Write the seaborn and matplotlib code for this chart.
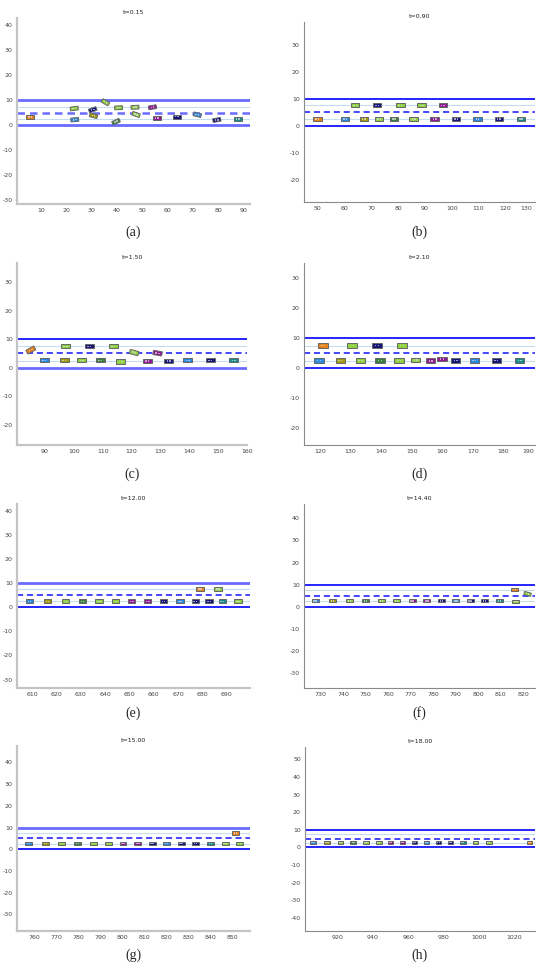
import numpy as np
import pandas as pd
import matplotlib
matplotlib.use("Agg")
import matplotlib.pyplot as plt
from matplotlib.patches import Rectangle
import seaborn as sns

# ---------------- data ----------------
TITLES = ["t=0.15", "t=0.90", "t=1.50", "t=2.10", "t=12.00", "t=14.40", "t=15.00", "t=18.00"]
CAPTIONS = ["(a)", "(b)", "(c)", "(d)", "(e)", "(f)", "(g)", "(h)"]

PALETTE = {"orange": "#e8801a", "blue": "#2a8ae0", "olive": "#a09a10", "lgreen": "#8ed040",
           "dgreen": "#3c8040", "purple": "#901890", "navy": "#16167a", "teal": "#188c8c"}

# panel (a)
a_x = [5.8, 23.2, 23.4, 30.5, 30.8, 35.5, 39.7, 40.7, 47.2, 47.6, 54.1, 55.8, 63.7, 71.8, 79.5, 87.8]
a_y = [3.2, 6.7, 2.2, 6.2, 3.8, 9.2, 1.4, 7.0, 7.2, 4.3, 7.2, 2.8, 3.4, 4.2, 2.1, 2.4]
a_ang = [0, 8, 5, 20, -15, -30, 25, 3, 3, -20, 10, 0, 0, -15, 10, 0]
a_col = ["orange", "lgreen", "blue", "navy", "olive", "lgreen", "dgreen", "lgreen", "lgreen",
         "lgreen", "purple", "purple", "navy", "blue", "navy", "teal"]

# panel (b)
b_x = [50.0, 60.3, 67.3, 73.0, 78.5, 85.8, 93.6, 101.7, 109.6, 117.5, 125.8, 64.1, 72.3, 80.9, 88.8, 96.7]
b_y = [2.5] * 11 + [7.5] * 5
b_ang = [0] * 16
b_col = ["orange", "blue", "olive", "lgreen", "dgreen", "lgreen", "purple", "navy", "blue", "navy", "teal",
         "lgreen", "navy", "lgreen", "lgreen", "purple"]

# panel (c)
c_x = [85.1, 97.1, 105.3, 113.6, 89.8, 96.6, 102.8, 109.1, 116.2, 125.4, 132.9, 139.5, 147.2, 155.4, 120.9, 129.0]
c_y = [6.2, 7.5, 7.5, 7.5, 2.6, 2.6, 2.6, 2.6, 2.2, 2.3, 2.3, 2.6, 2.6, 2.6, 5.3, 5.1]
c_ang = [30, 0, 0, 0, 0, 0, 0, 0, 0, 0, 0, 0, 0, 0, -15, -10]
c_col = ["orange", "lgreen", "navy", "lgreen", "blue", "olive", "lgreen", "dgreen", "lgreen", "purple",
         "navy", "blue", "navy", "teal", "lgreen", "purple"]

# panel (d)
d_x = [121.0, 130.4, 138.6, 146.8, 119.6, 126.6, 133.2, 139.6, 145.9, 151.3, 156.2, 159.9, 164.4, 170.5, 177.7, 185.4]
d_y = [7.6, 7.6, 7.6, 7.6, 2.6, 2.6, 2.6, 2.6, 2.6, 2.8, 2.5, 3.0, 2.6, 2.6, 2.6, 2.6]
d_ang = [0] * 16
d_col = ["orange", "lgreen", "navy", "lgreen", "blue", "olive", "lgreen", "dgreen", "lgreen", "lgreen",
         "purple", "purple", "navy", "blue", "navy", "teal"]

# panel (e)
e_x = [608.8, 616.3, 623.7, 630.6, 637.4, 644.2, 650.9, 657.5, 664.0, 670.8, 677.1, 682.8, 688.2, 694.6, 679.0, 686.4]
e_y = [2.5] * 14 + [7.7, 7.7]
e_ang = [0] * 16
e_col = ["blue", "olive", "lgreen", "dgreen", "lgreen", "lgreen", "purple", "purple", "navy", "blue", "navy",
         "navy", "teal", "lgreen", "orange", "lgreen"]

# panel (f)
f_x = [727.6, 735.3, 742.8, 749.9, 757.0, 763.7, 770.7, 777.2, 783.7, 790.1, 796.5, 802.9, 809.5, 816.8, 816.1, 822.0]
f_y = [2.7] * 13 + [2.3, 7.7, 5.8]
f_ang = [0] * 15 + [-15]
f_col = ["blue", "olive", "lgreen", "dgreen", "lgreen", "lgreen", "purple", "purple", "navy", "blue", "navy",
         "navy", "teal", "lgreen", "orange", "lgreen"]

# panel (g)
g_x = [757.4, 765.0, 772.4, 779.5, 786.8, 793.6, 800.3, 807.0, 813.5, 820.0, 826.7, 833.2, 840.0, 846.7, 853.2, 851.5]
g_y = [2.6] * 15 + [7.5]
g_ang = [0] * 16
g_col = ["blue", "olive", "lgreen", "dgreen", "lgreen", "lgreen", "purple", "purple", "navy", "blue", "navy",
         "navy", "teal", "lgreen", "lgreen", "orange"]

# panel (h)
h_x = [906.3, 914.2, 921.7, 929.0, 936.2, 943.4, 950.1, 956.9, 963.6, 970.4, 977.1, 983.8, 990.8, 997.9, 1005.5, 1028.5]
h_y = [2.7] * 16
h_ang = [0] * 16
h_col = ["blue", "olive", "lgreen", "dgreen", "lgreen", "lgreen", "purple", "purple", "navy", "blue", "navy",
         "navy", "teal", "lgreen", "lgreen", "orange"]

CARS = [(a_x, a_y, a_ang, a_col), (b_x, b_y, b_ang, b_col), (c_x, c_y, c_ang, c_col), (d_x, d_y, d_ang, d_col),
        (e_x, e_y, e_ang, e_col), (f_x, f_y, f_ang, f_col), (g_x, g_y, g_ang, g_col), (h_x, h_y, h_ang, h_col)]

XLIMS = [(0.6, 92.6), (45.0, 131.0), (80.3, 160.0), (114.7, 190.4),
         (603.7, 699.6), (722.6, 825.3), (752.1, 858.0), (901.8, 1031.5)]
YLIMS = [(-31.6, 43.0), (-28.3, 38.4), (-27.1, 36.7), (-25.6, 35.1),
         (-33.5, 42.9), (-36.8, 46.5), (-37.6, 47.5), (-47.5, 57.0)]
XTICKS = [range(10, 91, 10), range(50, 131, 10), range(90, 161, 10), range(120, 191, 10),
          range(610, 691, 10), range(730, 821, 10), range(760, 851, 10), range(920, 1021, 20)]
YTICKS = [range(-30, 41, 10), range(-20, 31, 10), range(-20, 31, 10), range(-20, 31, 10),
          range(-30, 41, 10), range(-30, 41, 10), range(-30, 41, 10), range(-40, 51, 10)]

# road geometry
ROAD_EDGES = [0, 10]
CENTER_LINE = 5
LANE_CENTERS = [2.5, 7.5]
CAR_LEN, CAR_WID = 3.1, 1.5

# rendering look of edge lines per panel: (bottom light?, top light?, dashed light?)
LIGHT_FLAGS = [(True, True, True), (False, False, False), (True, False, False), (False, False, False),
               (False, True, False), (False, False, False), (False, True, False), (False, False, False)]

# axes boxes in pixels: left, right, top, bottom
BOXES = [(17, 250, 18, 204), (304, 535, 22, 202), (17, 247, 263, 445), (304, 535, 263, 445),
         (17, 250, 504, 688), (304, 535, 504, 688), (17, 250, 746, 931), (305, 535, 747, 931)]
CAP_Y = [232, 232, 474, 474, 713, 713, 955, 955]

W, H = 536, 974
sns.set_style("white")
plt.rcParams['font.family'] = ['DejaVu Sans']
plt.rcParams['axes.unicode_minus'] = False
fig = plt.figure(figsize=(W / 100, H / 100), dpi=100)

DARK, LIGHT = "#1414ff", "#6a6aff"

for i in range(8):
    l, r, t, b = BOXES[i]
    ax = fig.add_axes([l / W, 1 - b / H, (r - l) / W, (b - t) / H])
    ax.set_xlim(*XLIMS[i])
    ax.set_ylim(*YLIMS[i])
    bl, tl, dl = LIGHT_FLAGS[i]
    # lane guides
    for yc in LANE_CENTERS:
        ax.axhline(yc, color="#c6dcef", lw=0.8, zorder=1)
    for ye, light in zip(ROAD_EDGES, (bl, tl)):
        ax.axhline(ye, color=LIGHT if light else DARK, lw=2.0 if light else 1.3, zorder=2)
    ax.axhline(CENTER_LINE, color=LIGHT if dl else DARK, lw=1.8 if dl else 1.1,
               ls=(0, (4, 2.5)) if not dl else (0, (3, 2)), zorder=2)

    xs, ys, angs, cols = CARS[i]
    for x, y, ang, c in zip(xs, ys, angs, cols):
        ax.add_patch(Rectangle((x - CAR_LEN / 2, y - CAR_WID / 2), CAR_LEN, CAR_WID, angle=ang,
                               rotation_point="center", facecolor=PALETTE[c],
                               edgecolor="#666666", lw=0.7, zorder=4))
    # small windows on each car
    win = pd.DataFrame({
        "x": [x + s * 0.45 * np.cos(np.radians(a)) for x, a in zip(xs, angs) for s in (-1, 1)],
        "y": [y + s * 0.45 * np.sin(np.radians(a)) for y, a in zip(ys, angs) for s in (-1, 1)],
    })
    sns.scatterplot(data=win, x="x", y="y", ax=ax, marker="s", s=1.2, color="#e0e0e0",
                    edgecolor="none", alpha=0.7, zorder=5, legend=False)

    ax.set_xticks(list(XTICKS[i]))
    ax.set_yticks(list(YTICKS[i]))
    ax.set_xlabel("")
    ax.set_ylabel("")
    ax.tick_params(axis="both", direction="out", length=1.5, width=0.5, labelsize=4.5,
                   colors="#444444", pad=1.5)
    # keep the last x label inside the figure when the axis touches the right edge
    if r >= 533:
        lbls = ax.get_xticklabels()
        xt = list(XTICKS[i])
        if xt[-1] >= XLIMS[i][1] - 2:
            lbls[-1].set_horizontalalignment("right")
    for side in ("top", "right"):
        ax.spines[side].set_visible(False)
    left_col = (i % 2 == 0)
    for side in ("left", "bottom"):
        ax.spines[side].set_color("#c4c4c4" if left_col else "#8a8a8a")
        ax.spines[side].set_linewidth(1.6 if left_col else 0.8)
    ax.set_title(TITLES[i], fontsize=4.5, pad=3, color="#222222")
    fig.text((l + r) / 2 / W, 1 - CAP_Y[i] / H, CAPTIONS[i], ha="center", va="center",
             fontsize=10, family=["Liberation Serif", "DejaVu Serif"])

fig.savefig("out.png", dpi=100)
